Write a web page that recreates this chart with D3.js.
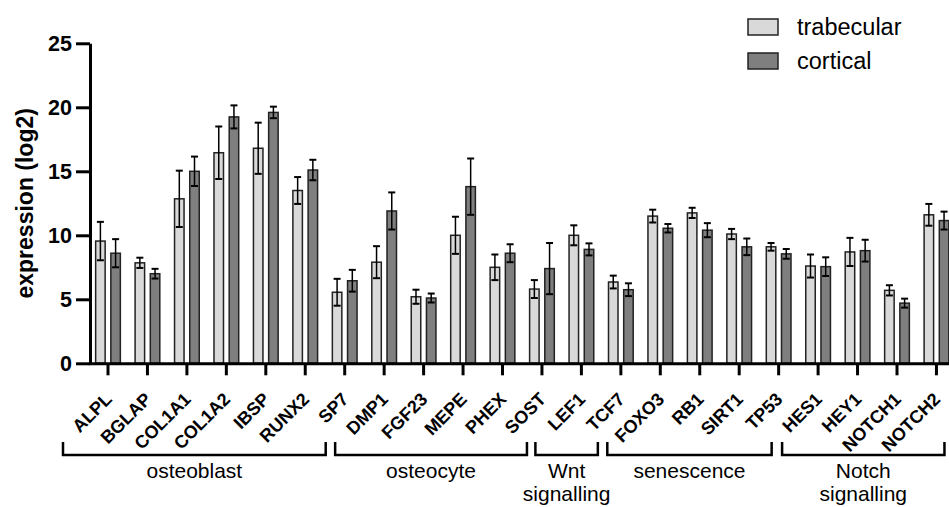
<!DOCTYPE html>
<head>
  <style>
    body { margin: 0; background: #fff; }
    text { font-family: Arial, "Liberation Sans", sans-serif; }
  </style>
  <title>Gene expression, trabecular vs cortical</title>
</head>
<body>
<script src="https://cdn.jsdelivr.net/npm/d3@7"></script>
<script>
  // data
  var genes = ["ALPL", "BGLAP", "COL1A1", "COL1A2", "IBSP", "RUNX2", "SP7",
               "DMP1", "FGF23", "MEPE", "PHEX", "SOST",
               "LEF1", "TCF7",
               "FOXO3", "RB1", "SIRT1", "TP53",
               "HES1", "HEY1", "NOTCH1", "NOTCH2"];
  var series = ["trabecular", "cortical"];
  var trabMean = [9.55, 7.85, 12.85, 16.45, 16.8, 13.5, 5.55, 7.9, 5.2, 10.0, 7.5, 5.8,
                  10.0, 6.35, 11.5, 11.75, 10.1, 9.1, 7.6, 8.7, 5.7, 11.6];
  var trabErr  = [1.5, 0.4, 2.2, 2.05, 2.0, 1.05, 1.05, 1.25, 0.55, 1.45, 1.0, 0.7,
                  0.78, 0.5, 0.5, 0.4, 0.4, 0.3, 0.9, 1.1, 0.4, 0.85];
  var cortMean = [8.6, 7.0, 15.0, 19.25, 19.6, 15.1, 6.45, 11.9, 5.1, 13.8, 8.6, 7.4,
                  8.9, 5.75, 10.55, 10.4, 9.1, 8.55, 7.55, 8.8, 4.7, 11.15];
  var cortErr  = [1.1, 0.38, 1.15, 0.9, 0.45, 0.8, 0.85, 1.45, 0.35, 2.2, 0.7, 2.0,
                  0.47, 0.5, 0.33, 0.55, 0.65, 0.38, 0.73, 0.85, 0.35, 0.7];
  var yTicks = [0, 5, 10, 15, 20, 25];
  var groupNames = [["osteoblast"], ["osteocyte"], ["Wnt", "signalling"], ["senescence"], ["Notch", "signalling"]];
  var groupFirst = ["ALPL", "DMP1", "LEF1", "FOXO3", "HES1"];
  var groupLast  = ["SP7", "SOST", "TCF7", "TP53", "NOTCH2"];

  var width = 949;
  var height = 507;
  var colors = ["#d9d9d9", "#7f7f7f"];

  // bracket ends relative to first/last tick (hand placed in original)
  var bracketPad = [[-45, -19], [-49, -15], [-46, -23], [-53, -7], [-36, 8]];

  var rows = genes.map(function(g, i) {
    return [
      { gene: g, s: "trabecular", v: trabMean[i], e: trabErr[i] },
      { gene: g, s: "cortical", v: cortMean[i], e: cortErr[i] }
    ];
  });
  var bars = [].concat.apply([], rows);

  var svg = d3.select("body").append("svg")
    .attr("width", width)
    .attr("height", height);

  var step = 39.45;
  var x = d3.scaleBand().domain(genes).range([108 - step / 2, 108 + step * (genes.length - 0.5)]);
  var xs = d3.scaleBand().domain(series).range([0, x.bandwidth()]).paddingInner(0.375).paddingOuter(0.485);
  var y = d3.scaleLinear().domain([0, 25]).range([363.3, 43.3]);
  var color = d3.scaleOrdinal().domain(series).range(colors);

  // bars
  svg.append("g").selectAll("rect")
    .data(bars)
    .enter()
    .append("rect")
    .attr("x", function(d) { return x(d.gene) + xs(d.s); })
    .attr("y", function(d) { return y(d.v); })
    .attr("width", xs.bandwidth())
    .attr("height", function(d) { return y(0) - y(d.v); })
    .attr("fill", function(d) { return color(d.s); })
    .attr("stroke", "#222")
    .attr("stroke-width", 1.5);

  // error bars
  var err = svg.append("g").selectAll("g")
    .data(bars)
    .enter()
    .append("g")
    .attr("stroke", "#000")
    .attr("stroke-width", 1.5);
  err.append("line")
    .attr("x1", function(d) { return x(d.gene) + xs(d.s) + xs.bandwidth() / 2; })
    .attr("x2", function(d) { return x(d.gene) + xs(d.s) + xs.bandwidth() / 2; })
    .attr("y1", function(d) { return y(d.v - d.e); })
    .attr("y2", function(d) { return y(d.v + d.e); });
  [-1, 1].forEach(function(sign) {
    err.append("line")
      .attr("stroke-width", 2)
      .attr("x1", function(d) { return x(d.gene) + xs(d.s) + xs.bandwidth() / 2 - 3.5; })
      .attr("x2", function(d) { return x(d.gene) + xs(d.s) + xs.bandwidth() / 2 + 3.5; })
      .attr("y1", function(d) { return y(d.v + sign * d.e); })
      .attr("y2", function(d) { return y(d.v + sign * d.e); });
  });

  // y axis
  var yAxis = d3.axisLeft(y).tickValues(yTicks).tickSize(14).tickSizeOuter(0).tickPadding(4);
  var gy = svg.append("g")
    .attr("transform", "translate(90,0)")
    .call(yAxis);
  gy.selectAll("path, line").attr("stroke", "#000").attr("stroke-width", 3);
  gy.selectAll("text")
    .attr("font-size", "21.5px")
    .attr("font-weight", "bold")
    .attr("fill", "#000");

  // x axis
  var xAxis = d3.axisBottom(x).tickSize(12).tickSizeOuter(0).tickPadding(0);
  var gx = svg.append("g")
    .attr("transform", "translate(0," + y(0) + ")")
    .call(xAxis);
  gx.selectAll("path, line").attr("stroke", "#000").attr("stroke-width", 3);
  gx.selectAll("text")
    .attr("font-size", "18px")
    .attr("font-weight", "bold")
    .attr("fill", "#000")
    .attr("text-anchor", "end")
    .attr("dy", null)
    .attr("y", null)
    .attr("transform", "translate(5,37) rotate(-45)");

  // y axis title
  svg.append("text")
    .attr("transform", "translate(33," + y(12.5) + ") rotate(-90)")
    .attr("text-anchor", "middle")
    .attr("font-size", "23px")
    .attr("font-weight", "bold")
    .text("expression (log2)");

  // group brackets
  var groups = svg.append("g").selectAll("g")
    .data(groupNames)
    .enter()
    .append("g");
  groups.append("path")
    .attr("fill", "none")
    .attr("stroke", "#000")
    .attr("stroke-width", 2.5)
    .attr("d", function(d, i) {
      var x0 = x(groupFirst[i]) + x.bandwidth() / 2 + bracketPad[i][0];
      var x1 = x(groupLast[i]) + x.bandwidth() / 2 + bracketPad[i][1];
      return "M" + x0 + ",442V455H" + x1 + "V442";
    });
  groups.append("text")
    .attr("text-anchor", "middle")
    .attr("font-size", "21px")
    .attr("fill", "#000")
    .attr("x", function(d, i) {
      var x0 = x(groupFirst[i]) + x.bandwidth() / 2 + bracketPad[i][0];
      var x1 = x(groupLast[i]) + x.bandwidth() / 2 + bracketPad[i][1];
      return (x0 + x1) / 2;
    })
    .attr("y", 478)
    .each(function(d) {
      var t = d3.select(this);
      var xx = t.attr("x");
      d.forEach(function(line, j) {
        t.append("tspan").attr("x", xx).attr("dy", j === 0 ? 0 : 23).text(line);
      });
    });

  // legend
  var legend = svg.append("g").selectAll("g")
    .data(series)
    .enter()
    .append("g")
    .attr("transform", function(d, i) { return "translate(748," + (19 + i * 34) + ")"; });
  legend.append("rect")
    .attr("width", 30)
    .attr("height", 16)
    .attr("fill", function(d) { return color(d); })
    .attr("stroke", "#222")
    .attr("stroke-width", 1.5);
  legend.append("text")
    .attr("x", 49)
    .attr("y", 16)
    .attr("font-size", "23.5px")
    .attr("fill", "#000")
    .text(function(d) { return d; });
</script>
</body>
